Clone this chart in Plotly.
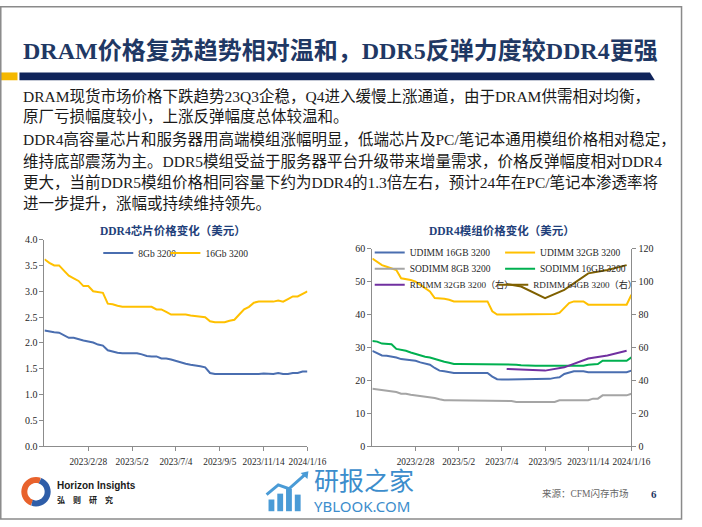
import math
import plotly.graph_objects as go

W, H = 702, 527


def px(x):
    return x / W


def py(y):
    return 1 - y / H


# ---------------- data ----------------
week_idx = list(range(55))
tick_idx = [9, 18, 27, 36, 45, 54]
tick_labels = ["2023/2/28", "2023/5/2", "2023/7/4", "2023/9/5", "2023/11/14", "2024/1/16"]

chip_8gb = [2.24, 2.22, 2.21, 2.2, 2.15, 2.1, 2.1, 2.07, 2.05, 2.03, 2.01, 1.97, 1.95, 1.86,
            1.83, 1.81, 1.8, 1.8, 1.8, 1.8, 1.78, 1.75, 1.74, 1.74, 1.7, 1.7, 1.68, 1.65, 1.62,
            1.6, 1.58, 1.57, 1.55, 1.53, 1.42, 1.4, 1.4, 1.39, 1.39, 1.39, 1.39, 1.4, 1.4, 1.4,
            1.4, 1.41, 1.4, 1.4, 1.42, 1.4, 1.4, 1.42, 1.42, 1.45, 1.45]
chip_16gb = [3.62, 3.55, 3.5, 3.5, 3.4, 3.3, 3.25, 3.2, 3.1, 3.1, 3.0, 2.98, 2.97, 2.76,
             2.75, 2.72, 2.7, 2.7, 2.7, 2.7, 2.7, 2.7, 2.7, 2.65, 2.65, 2.6, 2.55, 2.55, 2.55,
             2.55, 2.53, 2.52, 2.52, 2.5, 2.42, 2.4, 2.4, 2.4, 2.43, 2.45, 2.55, 2.65, 2.7,
             2.78, 2.8, 2.8, 2.8, 2.8, 2.82, 2.8, 2.85, 2.9, 2.9, 2.95, 3.0]

udimm_16 = [29, 28.2, 27.6, 27.5, 27.3, 27, 26.5, 26.3, 26.2, 26, 25.5, 25.2, 24.8, 23.8,
            23, 22.8, 22.5, 22.3, 22.3, 22.3, 22.3, 22.3, 22.3, 22.3, 22.3, 21.2, 20.4,
            20.3, 20.3, 20.3, 20.3, 20.3, 20.3, 20.3, 20.3, 20.3, 20.3, 20.5, 20.8, 21,
            22, 22.5, 22.8, 22.8, 22.8, 22.5, 22.5, 22.5, 22.5, 22.5, 22.5, 22.5, 22.5,
            22.5, 23]
udimm_32 = [57, 56, 55, 54.5, 54, 53.5, 51, 50.8, 50.5, 50, 49, 48, 47, 45, 45, 44.8, 44.5,
            44, 44, 44, 44, 44, 44, 44, 44, 41, 40, 40, 40, 40, 40, 40, 40, 40, 40, 40, 40,
            40, 40.2, 40.5, 42, 43.5, 44, 44, 44, 43, 43, 43, 43, 43, 43, 43, 43, 43, 46]
sodimm_8 = [17.5, 17.3, 17, 17, 16.8, 16.5, 16, 16, 15.7, 15.5, 15.2, 15, 15, 14.7, 14.3,
            14, 14, 14, 14, 14, 14, 14, 14, 14, 14, 13.8, 13.8, 13.8, 13.8, 13.8, 13.5,
            13.5, 13.5, 13.5, 13.5, 13.5, 13.5, 13.5, 13.5, 14, 14, 14, 14, 14, 14, 14,
            14.5, 14.5, 15.5, 15.5, 15.5, 15.5, 15.5, 15.5, 16]
sodimm_16 = [32, 31.8, 31.2, 31, 31, 29.6, 29.4, 29, 28.5, 28, 27.5, 27.2, 27, 26.5, 26,
             25.7, 25.4, 25, 25, 25, 25, 25, 25, 25, 25, 25, 25, 25, 25, 25, 24.8, 24.6,
             24.5, 24.5, 24.5, 24.5, 24.5, 24.5, 24.5, 24.5, 24.5, 24.5, 24.5, 24.5, 24.5,
             24.8, 25, 25, 26, 26, 26, 26, 26, 26, 27]
rdimm_idx = [28, 31, 36, 40, 45, 49, 53]
rdimm_32 = [47, 46.5, 46, 48, 53.3, 55.2, 58]
rdimm_64 = [98.5, 97, 90, 95, 105, 107, 110]

# ---------------- styles ----------------
C_BLUE = "#4A6EB0"
C_YEL = "#FFC000"
C_GREY = "#A5A5A5"
C_GREEN = "#00B050"
C_PURP = "#7030A0"
C_BROWN = "#7F6000"
NAVY = "#1F3864"
SERIF = "Liberation Serif, Noto Sans CJK SC"
CJK = "Noto Sans CJK SC"
LW = 2

fig = go.Figure()

# left chart
fig.add_trace(go.Scatter(x=week_idx, y=chip_8gb, name="8Gb 3200", mode="lines",
                         line=dict(color=C_BLUE, width=LW), xaxis="x", yaxis="y",
                         legend="legend7"))
fig.add_trace(go.Scatter(x=week_idx, y=chip_16gb, name="16Gb 3200", mode="lines",
                         line=dict(color=C_YEL, width=LW), xaxis="x", yaxis="y",
                         legend="legend8"))

# right chart
right_series = [
    ("UDIMM 16GB 3200", week_idx, udimm_16, C_BLUE, "y2", "legend"),
    ("UDIMM 32GB 3200", week_idx, udimm_32, C_YEL, "y2", "legend2"),
    ("SODIMM 8GB 3200", week_idx, sodimm_8, C_GREY, "y2", "legend3"),
    ("SODIMM 16GB 3200", week_idx, sodimm_16, C_GREEN, "y2", "legend4"),
    ("RDIMM 32GB 3200（右）", rdimm_idx, rdimm_32, C_PURP, "y3", "legend5"),
    ("RDIMM 64GB 3200（右）", rdimm_idx, rdimm_64, C_BROWN, "y3", "legend6"),
]
for name, xs, ys, col, yax, leg in right_series:
    fig.add_trace(go.Scatter(x=xs, y=ys, name=name, mode="lines",
                             line=dict(color=col, width=LW), xaxis="x2", yaxis=yax,
                             legend=leg))

xtickfont = dict(family=SERIF, size=9.3, color="#262626")
ytickfont = dict(family=SERIF, size=10, color="#262626")
axcommon = dict(showgrid=False, zeroline=False, showline=True, linecolor="#8c8c8c",
                linewidth=1, ticks="outside", ticklen=4, tickcolor="#8c8c8c",
                fixedrange=True)

L_X0, L_X1, L_Y0, L_Y1 = 45.7, 316, 450.7, 239
R_X0, R_X1, R_Y0, R_Y1 = 382.7, 649, 450.7, 248.3

fig.update_layout(
    width=W, height=H, margin=dict(l=0, r=0, t=0, b=0),
    paper_bgcolor="white", plot_bgcolor="rgba(0,0,0,0)",
    showlegend=True,
    xaxis=dict(domain=[px(L_X0), px(L_X1)], anchor="y", range=[0, 54], tickangle=0,
               tickmode="array", tickvals=tick_idx, ticktext=tick_labels,
               tickfont=xtickfont, ticklabelstandoff=2, **axcommon),
    yaxis=dict(domain=[py(L_Y0), py(L_Y1)], anchor="x", range=[0, 4], dtick=0.5,
               tickformat=".1f", tickfont=ytickfont, **axcommon),
    xaxis2=dict(domain=[px(R_X0), px(R_X1)], anchor="y2", range=[0, 54], tickangle=0,
                tickmode="array", tickvals=tick_idx, ticktext=tick_labels,
                tickfont=xtickfont, ticklabelstandoff=2, **axcommon),
    yaxis2=dict(domain=[py(R_Y0), py(R_Y1)], anchor="x2", range=[0, 60], dtick=10,
                tickfont=ytickfont, **axcommon),
    yaxis3=dict(overlaying="y2", side="right", anchor="x2", range=[0, 120], dtick=20,
                tickfont=ytickfont, **axcommon),
)

legfont = dict(family=SERIF, size=9.5, color="#262626")
legfont_small = dict(family=SERIF, size=9.1, color="#262626")
leg_pos = {
    "legend": (380, 252.3, legfont), "legend2": (514, 252.3, legfont),
    "legend3": (380, 268.8, legfont), "legend4": (514, 268.8, legfont),
    "legend5": (380, 285.3, legfont_small), "legend6": (507, 285.3, legfont_small),
    "legend7": (101, 252.7, legfont), "legend8": (170, 252.7, legfont),
}
for name, (lx, ly, lf) in leg_pos.items():
    fig.layout[name] = dict(orientation="h", x=px(lx), xanchor="left", y=py(ly),
                            yanchor="middle", bgcolor="rgba(0,0,0,0)", borderwidth=0,
                            font=lf, itemwidth=30)

ann = []


def text(x, y, s, size, color="#1a1a1a", family=CJK, xanchor="left", bold=False):
    if bold:
        s = "<b>" + s + "</b>"
    ann.append(dict(x=px(x), y=py(y), xref="paper", yref="paper", text=s, showarrow=False,
                    xanchor=xanchor, yanchor="middle",
                    font=dict(family=family, size=size, color=color)))


# header
text(22, 46, "DRAM价格复苏趋势相对温和，DDR5反弹力度较DDR4更强", 24, NAVY, SERIF, bold=True)

body = [
    (93, "DRAM现货市场价格下跌趋势23Q3企稳，Q4进入缓慢上涨通道，由于DRAM供需相对均衡，"),
    (113, "原厂亏损幅度较小，上涨反弹幅度总体较温和。"),
    (137, "DDR4高容量芯片和服务器用高端模组涨幅明显，低端芯片及PC/笔记本通用模组价格相对稳定，"),
    (159, "维持底部震荡为主。DDR5模组受益于服务器平台升级带来增量需求，价格反弹幅度相对DDR4"),
    (181, "更大，当前DDR5模组价格相同容量下约为DDR4的1.3倍左右，预计24年在PC/笔记本渗透率将"),
    (202, "进一步提升，涨幅或持续维持领先。"),
]
for yy, s in body:
    text(22, yy, s, 15.5, "#1a1a1a", SERIF)

# chart titles
text(178, 230, "DDR4芯片价格变化（美元）", 11.5, "#1F3F7A", SERIF, xanchor="center", bold=True)
text(516, 230, "DDR4模组价格变化（美元）", 11.5, "#1F3F7A", SERIF, xanchor="center", bold=True)

# footer
text(57, 491, "Horizon Insights", 10, "#1a1a1a", "Liberation Sans", bold=True)
text(57, 504.5, "弘　则　研　究", 8, "#1a1a1a", CJK, bold=True)
text(321, 484, "研报之家", 25, "#3C8DCC", CJK)
text(321, 512, "YBLOOK.COM", 15, "#3C8DCC", "Noto Sans")
text(555, 499, "来源：CFM闪存市场", 9.5, "#666666", SERIF)
text(667, 499, "6", 11, NAVY, SERIF, bold=True)

fig.update_layout(annotations=ann)

shapes = []


def rect(x0, y0, x1, y1, color):
    shapes.append(dict(type="rect", xref="paper", yref="paper", x0=px(x0), x1=px(x1),
                       y0=py(y1), y1=py(y0), fillcolor=color, line=dict(width=0),
                       layer="below"))


def poly(points, color=None, line=None, closed=True):
    d = "M " + " L ".join(f"{px(a):.5f},{py(b):.5f}" for a, b in points)
    if closed:
        d += " Z"
    shp = dict(type="path", xref="paper", yref="paper", path=d, layer="above")
    if color:
        shp["fillcolor"] = color
        shp["line"] = dict(width=0)
    if line:
        shp["line"] = line
    shapes.append(shp)


# slide frame
shapes.append(dict(type="rect", xref="paper", yref="paper", x0=px(0.8), x1=px(700.5),
                   y0=py(525), y1=py(0.8), line=dict(color="#8a8a8a", width=1.5),
                   fillcolor="rgba(0,0,0,0)"))
# header band
rect(0, 68, 18, 76, "#F5B800")
poly([(20, 68), (668, 68), (673, 76), (20, 76)], color="#10245A")

# logo swirl
cx, cy, r = 37, 497, 12


def arc(a0, a1, rr):
    return [(cx + rr * math.cos(math.radians(a)), cy - rr * math.sin(math.radians(a)))
            for a in range(a0, a1 + 1, 10)]


poly(arc(70, 250, r), line=dict(color="#E8622C", width=6), closed=False)
poly(arc(250, 430, r), line=dict(color="#2E5DA8", width=6), closed=False)

# watermark bar icon
for bx, top in [(276, 505), (285, 499), (294, 494), (303, 500)]:
    rect(bx, top, bx + 6, 517, "#4A9BD6")
poly([(274, 500), (286, 490), (297, 494), (314, 479)], line=dict(color="#4A9BD6", width=3),
     closed=False)
poly([(309, 478), (317, 476), (316, 484)], color="#4A9BD6")

fig.update_layout(shapes=shapes)

fig.write_html("out.html", config={"displayModeBar": False},
               post_script="document.body.style.margin='0';"
                           "document.body.style.overflow='hidden';")
